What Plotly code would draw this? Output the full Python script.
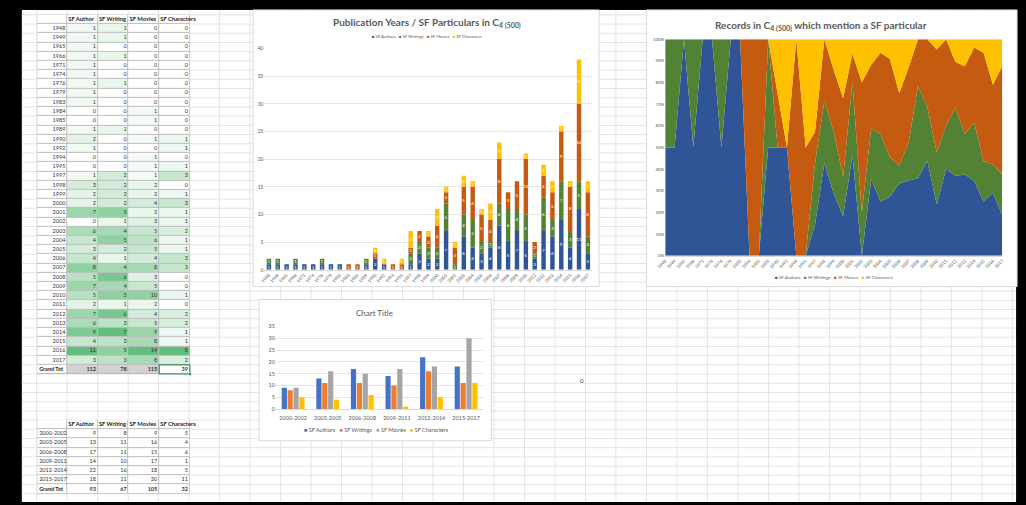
import plotly.graph_objects as go

W, H = 1026, 505


def fx(x):
    return x / W


def fy(y):
    return 1 - y / H


# ---- data: SF particulars per publication year ----
years = [1948, 1949, 1965, 1966, 1971, 1974, 1976, 1979, 1983, 1984, 1985, 1989,
         1990, 1992, 1994, 1995, 1997, 1998, 1999, 2000, 2001, 2002, 2003, 2004,
         2005, 2006, 2007, 2008, 2009, 2010, 2011, 2012, 2013, 2014, 2015, 2016, 2017]
sf_authors = [1, 1, 1, 1, 1, 1, 1, 1, 1, 0, 0, 1, 2, 1, 0, 0, 1, 3, 2, 2, 7, 0,
              6, 4, 3, 4, 8, 5, 7, 5, 2, 7, 6, 9, 4, 11, 3]
sf_writings = [1, 1, 0, 1, 0, 0, 1, 0, 0, 0, 0, 1, 0, 0, 0, 0, 2, 2, 2, 2, 5, 1,
               4, 5, 2, 1, 4, 6, 4, 5, 1, 6, 3, 7, 3, 5, 3]
sf_movies = [0, 0, 0, 0, 0, 0, 0, 0, 0, 1, 1, 0, 1, 0, 1, 1, 1, 2, 2, 4, 2, 3,
             5, 6, 5, 4, 8, 3, 5, 10, 2, 4, 5, 9, 8, 14, 8]
sf_characters = [0, 0, 0, 0, 0, 0, 0, 0, 0, 0, 0, 0, 1, 1, 0, 1, 3, 0, 1, 3, 1, 1,
                 2, 1, 1, 3, 3, 0, 0, 1, 0, 2, 2, 1, 1, 8, 2]

# ---- data: grouped periods ----
periods = ["2000-2002", "2003-2005", "2006-2008", "2009-2011", "2012-2014", "2015-2017"]
p_authors = [9, 13, 17, 14, 22, 18]
p_writings = [8, 11, 11, 10, 16, 11]
p_movies = [9, 16, 15, 17, 18, 30]
p_characters = [5, 4, 6, 1, 5, 11]

table_headers = ["SF Author", "SF Writing", "SF Movies", "SF Characters"]
series_names = ["SF Authors", "SF Writings", "SF Movies", "SF Characters"]
total_label = "Grand Tot"

dark_colors = ["#2F5597", "#548235", "#C55A11", "#FFC000"]
office_colors = ["#4472C4", "#ED7D31", "#A5A5A5", "#FFC000"]

GRID = "#E3E3E3"
TXT = "#595959"
FONT = "Lato"
ROW_H = 9.32
TOP = 12.0
COL_EDGES = [28.5, 59, 90, 121, 152, 183]

fig = go.Figure()

# ---- sheet background, cell gridlines, table borders and chart frames ----
shapes = [dict(type="rect", xref="paper", yref="paper", layer="below",
               x0=fx(13), x1=fx(1019), y0=fy(505), y1=fy(7),
               fillcolor="white", line=dict(width=0))]
path = []
k = 0
while TOP + ROW_H * k <= 505:
    yy = fy(TOP + ROW_H * k)
    path.append(f"M{fx(13):.5f},{yy:.5f}L{fx(1019):.5f},{yy:.5f}")
    k += 1
k = 0
while 28 + 30.85 * k <= 1019:
    xx = fx(28 + 30.85 * k)
    path.append(f"M{xx:.5f},{fy(7):.5f}L{xx:.5f},{fy(505):.5f}")
    k += 1
shapes.append(dict(type="path", xref="paper", yref="paper", layer="below",
                   path="".join(path), line=dict(color=GRID, width=1)))

n_rows1 = len(years) + 2
n_rows2 = len(periods) + 2
top2 = TOP + 44 * ROW_H
for (top, nr) in [(TOP, n_rows1), (top2, n_rows2)]:
    shapes.append(dict(type="rect", xref="paper", yref="paper", layer="below",
                       x0=fx(COL_EDGES[0]), x1=fx(COL_EDGES[-1]),
                       y0=fy(top + nr * ROW_H), y1=fy(top),
                       fillcolor="#BDBDBD", line=dict(width=0)))

for (x0, y0, x1, y1) in [(247, 7, 597, 287), (645, 7, 1020, 287), (253, 300, 488, 443)]:
    shapes.append(dict(type="rect", xref="paper", yref="paper", layer="below",
                       x0=fx(x0), x1=fx(x1), y0=fy(y1), y1=fy(y0),
                       fillcolor="white", line=dict(color="#D9D9D9", width=1)))

# active-cell outline and fill handle on the last total
sel_y0 = TOP + (n_rows1 - 1) * ROW_H
sel_y1 = TOP + n_rows1 * ROW_H
shapes.append(dict(type="rect", xref="paper", yref="paper", layer="above",
                   x0=fx(COL_EDGES[4]), x1=fx(COL_EDGES[5]), y0=fy(sel_y1), y1=fy(sel_y0),
                   line=dict(color="#3C8C5A", width=1.2)))
shapes.append(dict(type="rect", xref="paper", yref="paper", layer="above",
                   x0=fx(COL_EDGES[5] - 1.5), x1=fx(COL_EDGES[5] + 1.5),
                   y0=fy(sel_y1 + 1.5), y1=fy(sel_y1 - 1.5),
                   fillcolor="#3C8C5A", line=dict(color="white", width=0.5)))

# cell colour code: 0..1 = white->green scale, 2 = grey total cell
CELL_SCALE = [[0, "#FFFFFF"], [0.5, "#63BE7B"], [0.5001, "#D2D2D2"], [1, "#D2D2D2"]]


def add_sheet_table(xa, ya, row_labels, label_align, columns, shaded, grey_total):
    nr = len(row_labels) + 2
    z = [[0] * 5]
    for i in range(len(row_labels)):
        row = [0]
        for c in columns:
            mx = max(c)
            row.append(c[i] / mx if shaded else 0)
        z.append(row)
    z.append([0] + [2 if g else 0 for g in grey_total])
    fig.add_trace(go.Heatmap(
        x=COL_EDGES, y=list(range(nr + 1)), z=z, zmin=0, zmax=2,
        colorscale=CELL_SCALE, showscale=False, xgap=1, ygap=1,
        xaxis=xa, yaxis=ya, hoverinfo="skip"))

    # header texts, left aligned and allowed to run past the cell
    lefts = [COL_EDGES[j] + 1 for j in range(1, 5)]
    fig.add_trace(go.Scatter(
        x=lefts, y=[0.5] * 4, mode="text",
        text=[f"<b>{h}</b>" for h in table_headers], textposition="middle right",
        textfont=dict(family=FONT, size=5.8, color="#222"), cliponaxis=False,
        xaxis=xa, yaxis=ya, hoverinfo="skip", showlegend=False))
    # row labels
    ys = [i + 1.5 for i in range(len(row_labels))]
    if label_align == "right":
        lx, lpos = COL_EDGES[1] - 2, "middle left"
    else:
        lx, lpos = COL_EDGES[0] + 2, "middle right"
    fig.add_trace(go.Scatter(
        x=[lx] * len(row_labels), y=ys, mode="text",
        text=[str(r) for r in row_labels], textposition=lpos,
        textfont=dict(family=FONT, size=5.5, color="#333"), cliponaxis=False,
        xaxis=xa, yaxis=ya, hoverinfo="skip", showlegend=False))
    fig.add_trace(go.Scatter(
        x=[COL_EDGES[0] + 2], y=[nr - 0.5], mode="text",
        text=[f"<b>{total_label}</b>"], textposition="middle right",
        textfont=dict(family=FONT, size=5.5, color="#222"), cliponaxis=False,
        xaxis=xa, yaxis=ya, hoverinfo="skip", showlegend=False))
    # values and totals
    for j, c in enumerate(columns):
        rx = COL_EDGES[j + 2] - 2
        fig.add_trace(go.Scatter(
            x=[rx] * (len(c) + 1), y=ys + [nr - 0.5], mode="text",
            text=[str(v) for v in c] + [f"<b>{sum(c)}</b>"], textposition="middle left",
            textfont=dict(family=FONT, size=5.5, color="#333"), cliponaxis=False,
            xaxis=xa, yaxis=ya, hoverinfo="skip", showlegend=False))


cols = [sf_authors, sf_writings, sf_movies, sf_characters]
pcols = [p_authors, p_writings, p_movies, p_characters]
add_sheet_table("x4", "y4", years, "right", cols, True, [True, True, True, False])
add_sheet_table("x5", "y5", periods, "left", pcols, False, [False] * 4)

# ---- chart 1: stacked bars per year ----
x_years = [str(y) for y in years]
base = [0] * len(years)
for name, vals, col in zip(series_names, cols, dark_colors):
    fig.add_trace(go.Bar(
        x=x_years, y=vals, base=list(base), width=0.5, offset=-0.25, name=name,
        marker=dict(color=col, line=dict(width=0)),
        text=[str(v) if v else "" for v in vals], textposition="inside",
        textangle=0, insidetextanchor="middle", constraintext="none",
        textfont=dict(family=FONT, size=4.5, color="white"),
        xaxis="x", yaxis="y", showlegend=False, hoverinfo="skip"))
    base = [b + v for b, v in zip(base, vals)]

# ---- chart 2: 100% stacked area ----
for i, (name, vals, col) in enumerate(zip(series_names, cols, dark_colors)):
    fig.add_trace(go.Scatter(
        x=x_years, y=vals, name=name, stackgroup="share",
        groupnorm="percent" if i == 0 else None, mode="none",
        fillcolor=col, xaxis="x2", yaxis="y2", showlegend=False, hoverinfo="skip"))

# ---- chart 3: grouped bars per period ----
offsets = [-0.33, -0.16, 0.01, 0.18]
for name, vals, col, off in zip(series_names, pcols, office_colors, offsets):
    fig.add_trace(go.Bar(
        x=periods, y=vals, width=0.15, offset=off, name=name,
        marker=dict(color=col, line=dict(width=0)),
        xaxis="x3", yaxis="y3", showlegend=False, hoverinfo="skip"))


def legend_text(colors):
    parts = [f'<span style="color:{c}">■</span> {n}' for n, c in zip(series_names, colors)]
    return "   ".join(parts)


annotations = [
    dict(text="<b>Publication Years / SF Particulars in C<sub>4 (500)</sub></b>",
         x=fx(423), y=fy(20), font=dict(family=FONT, size=10, color=TXT)),
    dict(text=legend_text(dark_colors), x=fx(423), y=fy(34),
         font=dict(family=FONT, size=4.2, color=TXT)),
    dict(text="<b>Records in C<sub>4 (500)</sub> which mention a SF particular</b>",
         x=fx(822), y=fy(23), font=dict(family=FONT, size=10, color=TXT)),
    dict(text=legend_text(dark_colors), x=fx(835), y=fy(278),
         font=dict(family=FONT, size=4.5, color=TXT)),
    dict(text="Chart Title", x=fx(370), y=fy(314),
         font=dict(family=FONT, size=8, color=TXT)),
    dict(text=legend_text(office_colors), x=fx(372), y=fy(432),
         font=dict(family=FONT, size=5.5, color=TXT)),
    dict(text="0", x=fx(580), y=fy(382), font=dict(family=FONT, size=6, color="#333")),
]
for a in annotations:
    a.update(xref="paper", yref="paper", showarrow=False, xanchor="center", yanchor="middle")

tick_small = dict(family=FONT, size=4.5, color=TXT)
hidden = dict(visible=False, showgrid=False, zeroline=False, fixedrange=True)

fig.update_layout(
    width=W, height=H, margin=dict(l=0, r=0, t=0, b=0),
    paper_bgcolor="black", plot_bgcolor="rgba(0,0,0,0)",
    barmode="overlay", showlegend=False,
    shapes=shapes, annotations=annotations,
    xaxis=dict(domain=[fx(258.5), fx(590.2)], anchor="y", type="category",
               range=[-0.5, 36.5], dtick=1, tickangle=-45, tickfont=tick_small,
               showgrid=False, zeroline=False, showline=True, linecolor="#D9D9D9",
               linewidth=1, ticks=""),
    yaxis=dict(domain=[fy(270), fy(46)], anchor="x", range=[0, 40], dtick=5,
               tickfont=dict(family=FONT, size=5, color=TXT), showgrid=True,
               gridcolor="#E6E6E6", gridwidth=1, zeroline=False, showline=False, ticks=""),
    xaxis2=dict(domain=[fx(664), fx(1005)], anchor="y2", type="category",
                range=[0, 36], dtick=1, tickangle=-45, tickfont=tick_small,
                showgrid=False, zeroline=False, showline=True, linecolor="#D9D9D9", ticks=""),
    yaxis2=dict(domain=[fy(255.7), fy(36.7)], anchor="x2", range=[0, 100], dtick=10,
                ticksuffix="%", tickfont=tick_small, showgrid=False,
                zeroline=False, showline=False, ticks=""),
    xaxis3=dict(domain=[fx(270), fx(480)], anchor="y3", type="category",
                range=[-0.5, 5.5], tickfont=dict(family=FONT, size=5.5, color=TXT),
                ticklabelstandoff=3,
                showgrid=False, zeroline=False, showline=True, linecolor="#D9D9D9", ticks=""),
    yaxis3=dict(domain=[fy(411), fy(327.3)], anchor="x3", range=[0, 35], dtick=5,
                tickfont=dict(family=FONT, size=5.5, color=TXT), showgrid=True,
                gridcolor="#E3E3E3", zeroline=False, showline=False, ticks=""),
    xaxis4=dict(domain=[fx(COL_EDGES[0]), fx(COL_EDGES[-1])], anchor="y4",
                range=[COL_EDGES[0], COL_EDGES[-1]], **hidden),
    yaxis4=dict(domain=[fy(TOP + n_rows1 * ROW_H), fy(TOP)], anchor="x4",
                range=[n_rows1, 0], **hidden),
    xaxis5=dict(domain=[fx(COL_EDGES[0]), fx(COL_EDGES[-1])], anchor="y5",
                range=[COL_EDGES[0], COL_EDGES[-1]], **hidden),
    yaxis5=dict(domain=[fy(top2 + n_rows2 * ROW_H), fy(top2)], anchor="x5",
                range=[n_rows2, 0], **hidden),
)

fig.write_html("out.html")
